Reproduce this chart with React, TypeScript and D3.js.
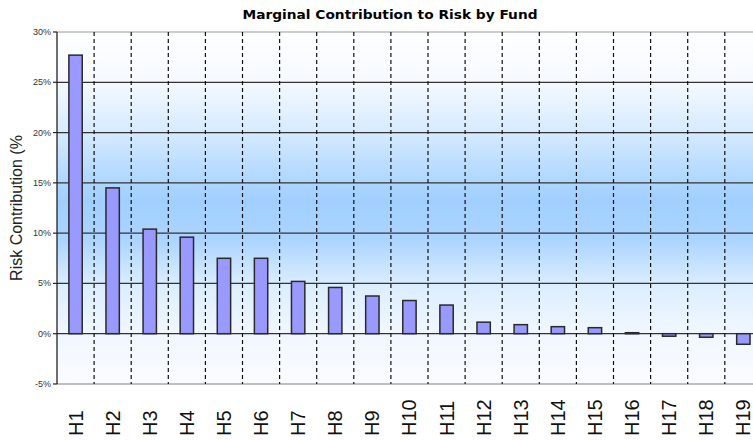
import React from "react";
import * as d3 from "d3";

const funds = ["H1","H2","H3","H4","H5","H6","H7","H8","H9","H10","H11","H12","H13","H14","H15","H16","H17","H18","H19"];
const contributions = [27.7, 14.5, 10.4, 9.6, 7.5, 7.5, 5.2, 4.6, 3.75, 3.3, 2.85, 1.15, 0.9, 0.7, 0.6, 0.1, -0.25, -0.35, -1.05];
const yTicks = [-5, 0, 5, 10, 15, 20, 25, 30];
const titleText = "Marginal Contribution to Risk by Fund";
const yAxisTitle = "Risk Contribution (%";

if (typeof document !== "undefined") {
  document.body.style.margin = "0";
}

export default function App() {
  const W = 753, H = 440;
  const left = 57, top = 32, bottom = 384;
  const band = 37.1;
  const right = left + band * funds.length;

  const x = d3.scaleBand<string>().domain(funds).range([left, right]).paddingInner(0.64).paddingOuter(0.32);
  const xb = d3.scaleBand<string>().domain(funds).range([left, right]);
  const y = d3.scaleLinear().domain([-5, 30]).range([bottom, top]);

  const stops = [
    [32, "#ffffff"], [82, "#f5f9ff"], [132, "#d6eaff"], [200, "#a0cfff"],
    [240, "#acd4ff"], [284, "#dbedff"], [333, "#f1f7ff"], [384, "#fafcff"],
  ] as const;

  return (
    <svg width={W} height={H} style={{ display: "block" }} fontFamily="Liberation Sans, Arial, sans-serif">
      <defs>
        <linearGradient id="bg" gradientUnits="userSpaceOnUse" x1={0} x2={0} y1={top} y2={bottom}>
          {stops.map(([yy, c], i) => (
            <stop key={i} offset={(yy - top) / (bottom - top)} stopColor={c} />
          ))}
        </linearGradient>
      </defs>
      <rect x={0} y={0} width={W} height={H} fill="#ffffff" />
      <rect x={left} y={top} width={right - left} height={bottom - top} fill="url(#bg)" />

      {/* horizontal gridlines */}
      {yTicks.filter(t => t > -5 && t < 30).map(t => (
        <line key={t} x1={left} x2={right} y1={y(t)} y2={y(t)} stroke="#333" strokeWidth={1.2} />
      ))}
      <line x1={left} x2={right} y1={y(30)} y2={y(30)} stroke="#999" strokeWidth={1.2} />
      <line x1={left} x2={right} y1={y(-5)} y2={y(-5)} stroke="#aaa" strokeWidth={1.5} />

      {/* dashed vertical separators */}
      {funds.slice(1).map(f => (
        <line key={f} x1={xb(f)!} x2={xb(f)!} y1={top} y2={bottom} stroke="#111" strokeWidth={1.2} strokeDasharray="4,3" />
      ))}

      {/* bars */}
      {funds.map((f, i) => {
        const v = contributions[i];
        const y0 = y(Math.max(0, v));
        const h = Math.max(Math.abs(y(v) - y(0)), 0.8);
        return (
          <rect key={f} x={x(f)!} y={y0} width={x.bandwidth()} height={h}
            fill="#9999ff" stroke="#2a2a2a" strokeWidth={1.5} />
        );
      })}

      {/* y axis */}
      <line x1={left} x2={left} y1={top} y2={bottom} stroke="#222" strokeWidth={1.3} />
      {yTicks.map(t => (
        <g key={t}>
          <line x1={left - 4} x2={left} y1={y(t)} y2={y(t)} stroke="#222" strokeWidth={1.2} />
          <text x={left - 6} y={y(t) + 3} fontSize={9} textAnchor="end" fill="#333">{t}%</text>
        </g>
      ))}

      {/* x labels */}
      {funds.map(f => {
        const cx = x(f)! + x.bandwidth() / 2;
        return (
          <text key={f} transform={`translate(${cx + 7},436) rotate(-90)`} fontSize={20} textAnchor="start" fill="#111">{f}</text>
        );
      })}

      {/* titles */}
      <text x={390} y={19} textAnchor="middle" fontSize={12.5} fontWeight="bold" fill="#000"
        fontFamily="DejaVu Sans, Verdana, sans-serif" textLength={295} lengthAdjust="spacingAndGlyphs">{titleText}</text>
      <text transform={`translate(22,${208}) rotate(-90)`} textAnchor="middle" fontSize={16} fill="#222">{yAxisTitle}</text>
    </svg>
  );
}
